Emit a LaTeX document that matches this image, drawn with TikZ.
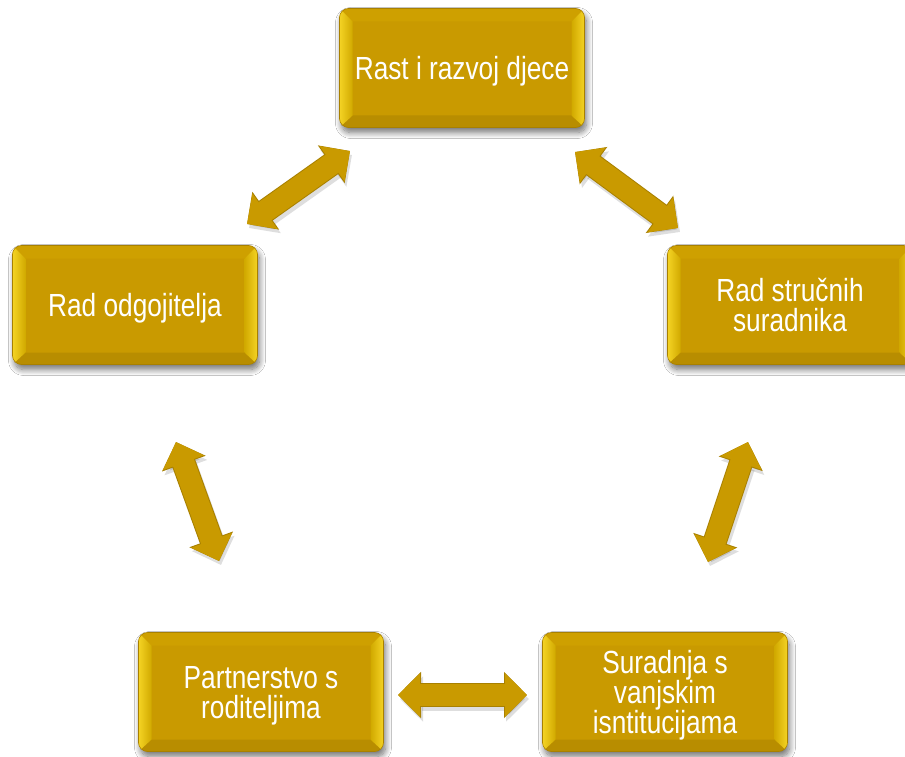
\documentclass[tikz,border=0pt]{standalone}
\usepackage{fontspec}
\setmainfont{Liberation Sans}[FakeStretch=0.82]
\usetikzlibrary{arrows.meta,shadows.blur}
\definecolor{gold}{HTML}{C99A00}
\definecolor{goldlight}{HTML}{F4D324}
\definecolor{golddark}{HTML}{B88D00}
\definecolor{goldtop}{HTML}{CEA000}
\definecolor{goldrim}{HTML}{A88000}
\tikzset{
  gbox/.style={rectangle, rounded corners=9pt, minimum width=245pt, minimum height=119pt,
    fill=gold, draw=goldrim, line width=0.6pt, text=white, align=center, inner sep=0pt,
    text depth=0pt,
    font=\fontsize{32}{30}\selectfont,
    blur shadow={shadow xshift=2pt, shadow yshift=-5pt, shadow blur steps=10,
      shadow blur radius=6pt, shadow opacity=55},
    path picture={
      \fill[goldtop, sharp corners] (path picture bounding box.north west) -- (path picture bounding box.north east)
        -- ([xshift=-13pt,yshift=-13pt]path picture bounding box.north east)
        -- ([xshift=13pt,yshift=-13pt]path picture bounding box.north west) -- cycle;
      \fill[golddark, sharp corners] (path picture bounding box.south west) -- (path picture bounding box.south east)
        -- ([xshift=-13pt,yshift=12pt]path picture bounding box.south east)
        -- ([xshift=13pt,yshift=12pt]path picture bounding box.south west) -- cycle;
      \shade[left color=goldlight, right color=gold!85!yellow, sharp corners] (path picture bounding box.north west)
        -- ([xshift=13pt,yshift=-13pt]path picture bounding box.north west)
        -- ([xshift=13pt,yshift=12pt]path picture bounding box.south west)
        -- (path picture bounding box.south west) -- cycle;
      \shade[right color=goldlight, left color=gold!85!yellow, sharp corners] (path picture bounding box.north east)
        -- ([xshift=-13pt,yshift=-13pt]path picture bounding box.north east)
        -- ([xshift=-13pt,yshift=12pt]path picture bounding box.south east)
        -- (path picture bounding box.south east) -- cycle;
    }},
  dbl/.style={line width=22pt, draw=gold,
    {Triangle[width=42pt,length=22pt]}-{Triangle[width=42pt,length=22pt]}},
  dblrim/.style={line width=24pt, draw=goldrim,
    {Triangle[width=45pt,length=23pt]}-{Triangle[width=45pt,length=23pt]}},
  dblshadow/.style={line width=24pt, draw=black, opacity=0.13,
    {Triangle[width=44pt,length=23pt]}-{Triangle[width=44pt,length=23pt]},
    transform canvas={shift={(2pt,-4pt)}}}
}
\begin{document}
\begin{tikzpicture}[x=1pt,y=-1pt]
\useasboundingbox[fill=white] (0,0) rectangle (905,757);

\node[gbox] (rast) at (462,68) {Rast i razvoj djece};
\node[gbox] (odg) at (135,305) {Rad odgojitelja};
\node[gbox] (str) at (790,305) {Rad stručnih\\suradnika};
\node[gbox] (par) at (261,692) {Partnerstvo s\\roditeljima};
\node[gbox] (sur) at (665,692) {Suradnja s\\vanjskim\\isntitucijama};

\coordinate (a1s) at (247,224);
\coordinate (a1e) at (350,151);
\coordinate (a2s) at (575,152);
\coordinate (a2e) at (678,228);
\coordinate (a3s) at (176,442);
\coordinate (a3e) at (219,561);
\coordinate (a4s) at (748,442);
\coordinate (a4e) at (708,562);
\coordinate (a5s) at (398,695);
\coordinate (a5e) at (527,695);

\foreach \s/\e in {a1s/a1e,a2s/a2e,a3s/a3e,a4s/a4e,a5s/a5e}{
  \draw[dblshadow] (\s) -- (\e);
  \draw[dblrim] (\s) -- (\e);
  \draw[dbl] (\s) -- (\e);
}
\end{tikzpicture}
\end{document}
